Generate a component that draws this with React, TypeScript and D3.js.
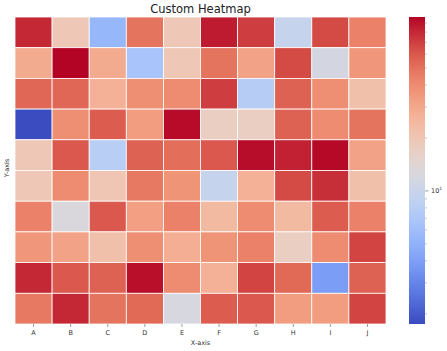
import React from "react";
import * as d3 from "d3";

const columns = ["A", "B", "C", "D", "E", "F", "G", "H", "I", "J"];
const rows = ["0", "1", "2", "3", "4", "5", "6", "7", "8", "9"];
const row0 = [80, 19.5, 5.4, 49, 19.5, 86, 71, 9.5, 65, 44];
const row1 = [29, 97.5, 29, 6.6, 19.5, 49, 32, 65, 11.6, 36];
const row2 = [54, 54, 27, 39, 40, 71, 7.8, 56, 39, 22];
const row3 = [1.75, 39, 58, 34, 94, 17.3, 17.3, 56, 40, 49];
const row4 = [19.5, 60, 8.1, 56, 51, 60, 93, 83, 95, 32];
const row5 = [19.5, 40, 20, 47, 37, 9.5, 27, 65, 77, 22];
const row6 = [44, 12.6, 60, 33, 44, 24, 40, 24, 58, 44];
const row7 = [36, 32, 22, 39, 28, 37, 44, 17.3, 40, 68];
const row8 = [80, 60, 56, 92, 40, 27, 68, 53, 3.9, 56];
const row9 = [47, 80, 49, 53, 12, 58, 60, 34, 34, 68];
const matrix = [row0, row1, row2, row3, row4, row5, row6, row7, row8, row9];
const majorTicks = [10];
const minorTicks = [2, 3, 4, 5, 6, 7, 8, 9, 20, 30, 40, 50, 60, 70, 80, 90];

const coolwarmStops = [
  "#3b4cc0", "#6282ea", "#8db0fe", "#b8d0f9", "#dddcdc",
  "#f5c4ad", "#f49a7b", "#de604d", "#b40426",
];
const coolwarm = d3.interpolateRgbBasis(coolwarmStops);

export default function App() {
  const W = 447, H = 351;
  const left = 15, right = 386, top = 17, bottom = 324;
  const cbX = 409, cbW = 16;
  const font = "DejaVu Sans, sans-serif";

  const x = d3.scaleBand<string>().domain(columns).range([left, right]);
  const y = d3.scaleBand<string>().domain(rows).range([top, bottom]);
  const all = matrix.flat();
  const ext = d3.extent(all) as [number, number];
  const norm = d3.scaleLog().domain(ext).range([0, 1]);
  const color = (v: number) => coolwarm(Math.max(0, Math.min(1, norm(v))));
  const cbY = d3.scaleLog().domain(ext).range([bottom, top]);

  const stops = d3.range(0, 1.0001, 0.02);

  return (
    <svg width={W} height={H} style={{ display: "block", position: "absolute", left: 0, top: 0 }} fontFamily={font}>
      <defs>
        <linearGradient id="cb" x1="0" y1="1" x2="0" y2="0">
          {stops.map((t, i) => (
            <stop key={i} offset={t} stopColor={coolwarm(t)} />
          ))}
        </linearGradient>
      </defs>
      <rect width={W} height={H} fill="white" />
      <text x={(left + right) / 2} y={13} textAnchor="middle" fontSize={11.5} fill="#222">Custom Heatmap</text>
      {matrix.map((row, ri) =>
        row.map((v, ci) => (
          <rect
            key={ri + "-" + ci}
            x={x(columns[ci])!}
            y={y(rows[ri])!}
            width={x.bandwidth()}
            height={y.bandwidth()}
            fill={color(v)}
            stroke="white"
            strokeWidth={0.8}
          />
        ))
      )}
      {columns.map((c) => (
        <g key={c}>
          <line x1={x(c)! + x.bandwidth() / 2} x2={x(c)! + x.bandwidth() / 2} y1={bottom} y2={bottom + 3} stroke="#555" strokeWidth={0.6} />
          <text x={x(c)! + x.bandwidth() / 2} y={335} textAnchor="middle" fontSize={6.5} fill="#333">{c}</text>
        </g>
      ))}
      <text x={(left + right) / 2} y={345} textAnchor="middle" fontSize={6.5} fill="#333">X-axis</text>
      <text transform={`translate(9,168) rotate(-90)`} textAnchor="middle" fontSize={6.5} fill="#333">Y-axis</text>
      <rect x={cbX} y={top} width={cbW} height={bottom - top} fill="url(#cb)" />
      {minorTicks.filter((t) => t >= ext[0] && t <= ext[1]).map((t) => (
        <line key={t} x1={cbX + cbW} x2={cbX + cbW + 2} y1={cbY(t)} y2={cbY(t)} stroke="#888" strokeWidth={0.5} />
      ))}
      {majorTicks.map((t) => (
        <g key={t}>
          <line x1={cbX + cbW} x2={cbX + cbW + 3.5} y1={cbY(t)} y2={cbY(t)} stroke="#555" strokeWidth={0.6} />
          <text x={cbX + cbW + 6} y={cbY(t) + 2.5} fontSize={6.5} fill="#333">
            10<tspan dy={-3} fontSize={4.5}>1</tspan>
          </text>
        </g>
      ))}
    </svg>
  );
}
